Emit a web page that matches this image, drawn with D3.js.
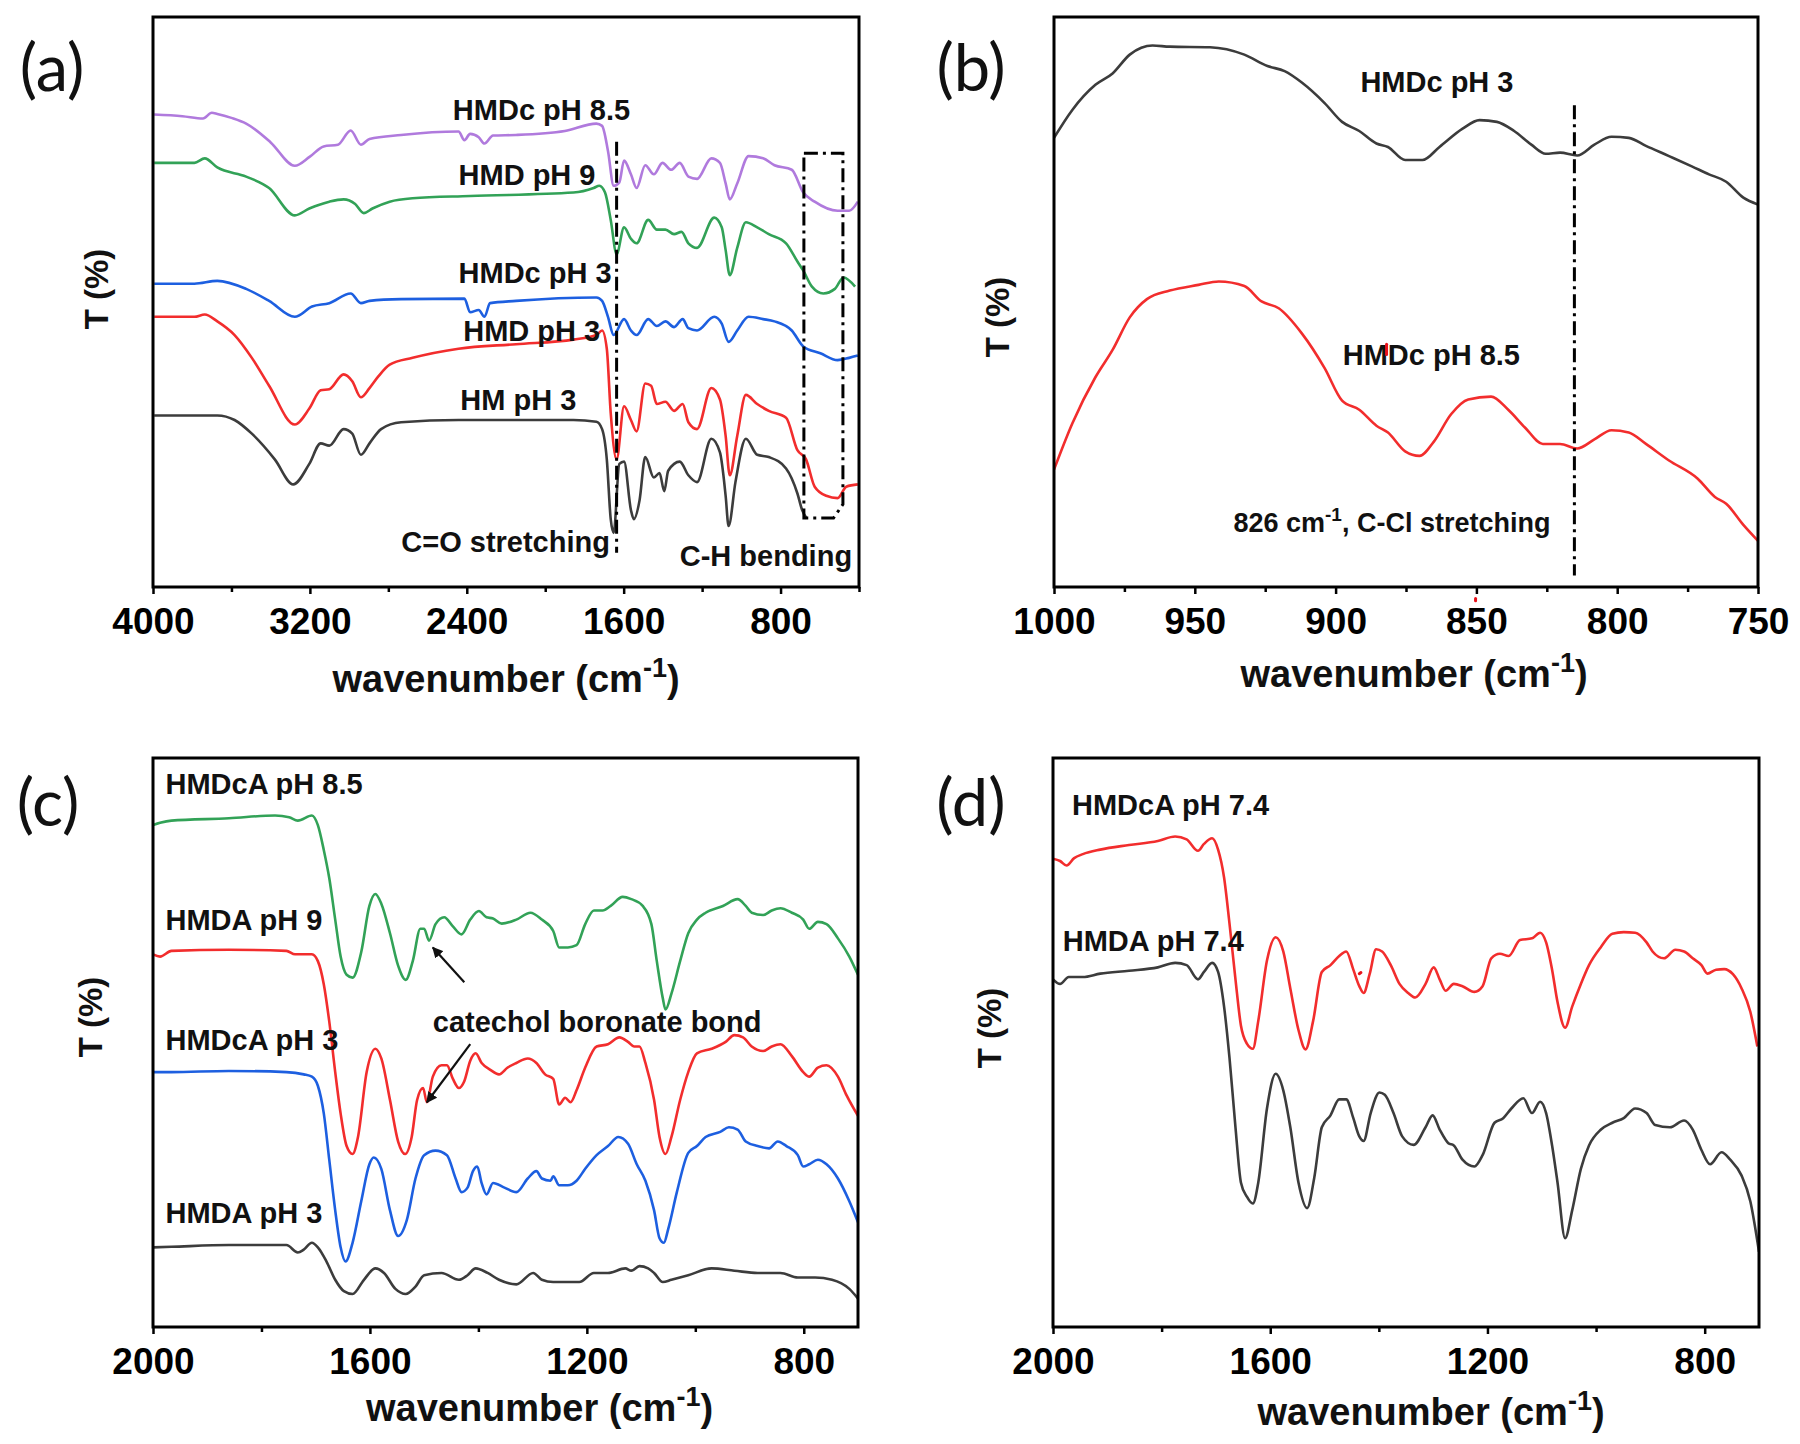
<!DOCTYPE html>
<html><head><meta charset="utf-8">
<script src="https://cdn.jsdelivr.net/npm/d3@7/dist/d3.min.js"></script>
<style>body{margin:0;background:#fff}</style>
</head><body><svg id="c" width="1800" height="1444"></svg>
<script>
// ---------------- DATA (wavenumber cm-1, transmittance in arbitrary offset units 0-100) ----------------
// Panel (a)
const aTicksMajor = [4000, 3200, 2400, 1600, 800];
const aTicksMinor = [3600, 2800, 2000, 1200, 400];
const a_HMDc_pH85 = [[3994,82.9],[3850,82.6],[3745,82.2],[3700,83.2],[3672,83.0],[3600,82.3],[3525,81.3],[3400,78.0],[3277,73.9],[3200,75.5],[3130,77.3],[3057,77.6],[2992,80.1],[2940,77.6],[2896,78.6],[2735,79.3],[2442,79.9],[2412,78.4],[2383,79.5],[2339,78.9],[2310,77.8],[2266,79.2],[2149,79.3],[1900,80.0],[1739,81.3],[1710,80.9],[1680,76.5],[1651,70.4],[1622,71.0],[1598,74.8],[1563,72.4],[1534,70.0],[1490,74.0],[1446,72.4],[1402,74.4],[1358,73.2],[1314,74.4],[1270,72.0],[1226,71.6],[1153,75.2],[1109,74.4],[1080,70.8],[1059,68.0],[1021,70.8],[963,75.6],[889,75.2],[831,74.0],[743,73.2],[684,69.2],[626,67.6],[509,66.0],[450,66.0],[406,67.6]];
const a_HMD_pH9 = [[3994,74.4],[3789,74.4],[3736,75.2],[3672,73.6],[3525,72.0],[3408,70.0],[3277,65.2],[3203,66.4],[3101,67.6],[3028,68.0],[2969,67.2],[2925,65.6],[2881,66.4],[2793,67.6],[2676,68.2],[2383,68.6],[1856,69.2],[1753,70.0],[1724,70.4],[1695,69.2],[1666,64.4],[1636,58.4],[1598,63.1],[1563,61.1],[1534,60.3],[1475,64.4],[1431,62.7],[1387,62.7],[1343,61.9],[1305,62.3],[1270,60.3],[1226,59.5],[1138,64.8],[1100,63.1],[1080,59.1],[1059,54.7],[1021,59.5],[977,64.0],[919,63.1],[860,61.9],[772,60.3],[714,57.1],[684,55.5],[640,52.7],[582,51.5],[523,52.3],[479,54.3],[420,52.7]];
const a_HMDc_pH3 = [[3994,53.2],[3789,53.2],[3672,53.7],[3525,52.3],[3408,50.2],[3277,47.4],[3189,49.2],[3101,49.8],[2992,51.5],[2940,49.8],[2896,50.2],[2735,50.5],[2412,50.6],[2383,48.2],[2339,48.6],[2310,47.4],[2281,49.8],[2149,50.2],[1739,50.8],[1710,50.2],[1680,47.4],[1651,44.2],[1598,47.0],[1563,45.0],[1534,44.2],[1475,47.0],[1431,45.8],[1387,46.6],[1343,45.6],[1299,47.0],[1270,45.4],[1226,45.0],[1138,47.4],[1100,46.2],[1065,43.0],[1021,45.0],[963,47.4],[889,47.0],[831,46.6],[743,45.0],[684,42.2],[597,41.0],[509,39.8],[450,40.2],[406,40.6]];
const a_HMD_pH3 = [[3994,47.4],[3789,47.4],[3736,47.8],[3672,46.6],[3584,44.2],[3496,40.2],[3408,35.3],[3277,28.5],[3203,31.3],[3145,34.5],[3101,34.7],[3028,37.3],[2984,36.1],[2940,33.3],[2896,34.9],[2852,36.9],[2793,39.0],[2676,40.2],[2442,41.8],[2149,42.6],[1856,43.4],[1739,44.2],[1710,45.0],[1686,41.8],[1666,30.5],[1636,22.4],[1598,31.7],[1563,29.3],[1534,27.3],[1490,35.7],[1460,35.3],[1431,32.1],[1387,32.5],[1343,30.9],[1299,32.1],[1270,28.9],[1226,27.7],[1153,34.9],[1109,32.9],[1080,26.5],[1059,19.6],[1021,26.5],[977,33.7],[919,32.1],[860,30.9],[772,29.7],[714,24.0],[670,22.4],[626,17.6],[567,16.0],[509,15.6],[465,17.6],[406,18.0]];
const a_HM_pH3 = [[3994,30.1],[3672,30.1],[3584,29.3],[3496,26.9],[3379,22.4],[3285,18.0],[3203,21.6],[3145,25.2],[3101,24.8],[3028,27.7],[2984,26.9],[2940,23.2],[2896,25.2],[2837,27.7],[2735,28.9],[2442,29.3],[1856,29.3],[1739,29.0],[1710,27.7],[1686,22.4],[1666,11.9],[1651,9.5],[1622,21.6],[1598,22.0],[1563,13.5],[1548,11.9],[1519,15.2],[1490,22.8],[1446,19.2],[1417,20.0],[1393,16.8],[1373,20.4],[1314,22.0],[1270,19.6],[1226,18.4],[1153,26.0],[1109,23.6],[1080,16.0],[1065,10.7],[1030,18.4],[977,26.0],[919,23.2],[860,22.8],[772,20.8],[714,16.4],[690,13.5],[666,12.0]];
const aLabels = [["HMDc pH 8.5",2471,83.7],["HMD pH 9",2442,72.4],["HMDc pH 3",2442,55.1],["HMD pH 3",2418,45.0],["HM pH 3",2433,32.9],["C=O stretching",2734,8.0],["C-H bending",1314,5.6]];
const aCOLine = [[1636,78.1],[1636,6.0]];
const aBox = [[681,76.1],[482,76.1],[482,14.5],[530,12.1],[681,12.1],[681,76.1]];

// Panel (b)
const bTicksMajor = [1000, 950, 900, 850, 800, 750];
const bTicksMinor = [975, 925, 875, 825, 775];
const b_HMDc_pH3 = [[1000,78.8],[993.5,83.7],[985.3,88.1],[979.2,90.1],[973.1,93.4],[969.0,94.6],[965.0,95.0],[958.9,94.8],[944.6,94.7],[932.4,93.4],[924.2,91.4],[918.1,90.5],[912.0,88.5],[903.9,84.9],[897.7,81.6],[891.6,80.0],[885.5,77.8],[881.4,77.2],[875.3,74.9],[869.2,74.9],[863.1,77.2],[854.9,80.4],[848.9,81.9],[842.7,81.6],[836.6,80.0],[830.5,77.6],[825.4,76.0],[820.3,76.2],[814.2,75.7],[808.1,77.6],[802.0,79.0],[795.9,78.8],[789.8,77.4],[781.6,75.6],[773.5,73.8],[767.4,72.4],[761.3,71.1],[755.2,68.3],[750,67.1]];
const b_HMDc_pH85 = [[1000,20.6],[993.5,28.7],[985.3,36.8],[979.2,41.6],[973.1,47.3],[967.0,50.5],[958.9,52.0],[948.7,53.0],[941.5,53.6],[932.4,52.8],[926.3,50.1],[920.2,48.9],[912.0,44.5],[903.9,38.4],[897.7,32.7],[891.6,31.1],[885.5,28.3],[881.4,27.1],[875.3,23.8],[870.2,23.0],[865.1,25.5],[859.0,30.3],[852.9,32.9],[844.8,33.4],[838.7,31.1],[832.6,27.9],[826.4,25.1],[820.3,25.1],[814.2,24.3],[808.1,25.9],[802.0,27.5],[795.9,27.1],[789.8,25.1],[781.6,22.2],[771.4,19.0],[765.3,15.8],[761.3,14.6],[755.2,10.9],[750,8.1]];
const bLabels = [["HMDc pH 3",864,88.7],["HMDc pH 8.5",866,40.8]];
const bCClLine = [[815.2,84.5],[815.2,2.0]];
const bNote = [880, 11.3];
const bRedSpecks = [[[881.9,40.8],[881.9,42.6]],[[850.3,-2.4],[850.3,-2.0]]];

// Panel (c)
const cdTicksMajor = [2000, 1600, 1200, 800];
const cdTicksMinor = [1800, 1400, 1000];
const c_HMDcA_pH85 = [[2000,88.2],[1987,88.6],[1966,89.0],[1860,89.4],[1775,89.9],[1749,89.6],[1733,89.0],[1707,89.9],[1696,88.2],[1685,83.8],[1675,78.9],[1664,71.6],[1654,65.1],[1643,61.9],[1632,61.4],[1616,65.9],[1601,74.0],[1590,76.1],[1579,74.4],[1563,69.2],[1548,63.5],[1534,61.0],[1521,64.3],[1507,70.0],[1500,70.0],[1491,67.9],[1479,70.8],[1463,72.0],[1447,70.4],[1431,69.0],[1415,71.6],[1399,73.1],[1385,72.0],[1373,71.8],[1357,70.9],[1330,71.6],[1304,72.8],[1283,71.6],[1262,69.6],[1251,66.7],[1235,66.7],[1219,67.1],[1203,70.8],[1187,73.2],[1171,73.2],[1156,74.0],[1134,75.6],[1118,75.2],[1097,74.0],[1081,70.8],[1071,64.3],[1060,57.8],[1055,55.8],[1044,58.6],[1028,64.3],[1013,69.2],[997,71.6],[981,72.8],[949,74.0],[922,75.2],[907,74.0],[896,72.8],[875,72.4],[859,73.2],[843,73.6],[822,72.8],[801,71.6],[790,70.0],[774,71.2],[758,70.8],[737,68.3],[716,65.1],[700,61.9]];
const c_HMDA_pH9 = [[2000,65.5],[1987,65.1],[1966,66.1],[1860,66.3],[1754,66.1],[1738,65.5],[1707,65.5],[1696,64.3],[1685,60.2],[1675,53.7],[1664,44.8],[1654,37.5],[1643,31.8],[1632,30.4],[1622,33.4],[1606,44.8],[1590,48.9],[1579,47.2],[1563,39.9],[1548,32.6],[1535,30.4],[1523,33.4],[1513,39.9],[1502,42.0],[1495,39.5],[1484,44.0],[1468,46.0],[1458,46.0],[1447,43.6],[1436,42.0],[1426,43.2],[1415,46.8],[1405,48.1],[1394,46.4],[1378,45.2],[1362,44.4],[1346,45.6],[1330,46.4],[1309,47.2],[1293,46.4],[1277,44.4],[1262,43.6],[1251,39.1],[1240,40.3],[1230,39.5],[1219,41.6],[1203,45.6],[1182,49.3],[1161,49.7],[1140,50.9],[1124,50.1],[1113,49.3],[1103,49.3],[1092,46.4],[1076,39.9],[1066,33.4],[1055,30.4],[1044,33.4],[1028,39.9],[1013,44.8],[997,48.1],[970,48.9],[944,50.1],[928,51.3],[912,50.9],[896,49.3],[875,48.5],[859,49.3],[843,49.7],[822,47.6],[801,44.8],[790,44.0],[774,45.6],[758,46.0],[737,44.0],[721,40.7],[700,37.1]];
const c_HMDcA_pH3 = [[2000,44.8],[1966,44.8],[1860,45.0],[1754,44.8],[1722,44.4],[1707,44.0],[1696,42.4],[1685,37.5],[1675,29.4],[1664,20.5],[1654,14.0],[1645,11.5],[1632,14.8],[1616,22.1],[1601,28.6],[1593,29.8],[1579,27.8],[1563,20.5],[1548,16.0],[1532,18.8],[1516,26.1],[1500,30.2],[1479,31.0],[1458,30.2],[1442,26.1],[1431,23.7],[1420,24.5],[1410,27.4],[1402,28.2],[1394,25.3],[1385,23.3],[1373,25.3],[1352,24.5],[1330,23.7],[1309,26.1],[1293,27.4],[1283,26.1],[1267,25.7],[1262,26.5],[1251,24.9],[1235,24.9],[1219,25.7],[1203,27.8],[1182,30.2],[1161,31.8],[1142,33.4],[1124,32.2],[1108,28.6],[1092,25.7],[1076,20.5],[1066,15.6],[1058,14.8],[1050,17.2],[1034,23.7],[1013,30.6],[997,31.8],[981,33.4],[954,34.3],[938,35.1],[922,34.7],[907,32.6],[885,31.8],[864,31.4],[848,32.6],[832,31.8],[811,30.2],[801,28.2],[790,28.6],[774,29.4],[758,28.6],[737,26.1],[716,22.1],[700,18.4]];
const c_HMDA_pH3 = [[2000,14.0],[1966,14.1],[1860,14.4],[1754,14.4],[1733,13.1],[1722,13.6],[1707,14.8],[1696,14.0],[1680,11.5],[1664,8.3],[1648,6.3],[1632,5.8],[1611,8.3],[1590,10.3],[1574,9.5],[1553,6.7],[1534,5.8],[1516,7.1],[1500,9.1],[1468,9.5],[1436,8.3],[1420,9.1],[1405,10.3],[1383,9.5],[1362,8.3],[1330,7.5],[1299,9.5],[1283,8.3],[1262,7.9],[1235,7.9],[1214,7.9],[1187,9.5],[1161,9.5],[1129,10.3],[1118,9.9],[1103,10.7],[1087,10.3],[1076,9.5],[1060,7.9],[1044,8.3],[1013,9.1],[970,10.3],[928,9.9],[885,9.5],[843,9.5],[811,8.7],[779,8.7],[748,8.3],[716,6.7],[700,5.0]];
const cLabels = [["HMDcA pH 8.5",1977,95.5],["HMDA pH 9",1977,71.6],["HMDcA pH 3",1977,50.6],["HMDA pH 3",1977,20.2],["catechol boronate bond",1484,53.7]];
const cArrows = [[[1426,60.6],[1484,66.7]],[[1415,49.7],[1495,39.5]]];

// Panel (d)
const d_HMDcA_pH74 = [[2000,82.3],[1987,81.9],[1975,81.1],[1961,82.4],[1945,83.1],[1913,83.9],[1860,84.7],[1807,85.4],[1775,86.2],[1754,85.7],[1733,83.7],[1722,84.9],[1707,85.9],[1696,83.9],[1685,79.0],[1675,70.9],[1664,61.1],[1654,53.0],[1643,49.8],[1632,48.9],[1622,53.8],[1606,64.4],[1590,68.5],[1576,66.0],[1563,59.5],[1548,52.2],[1535,48.8],[1521,53.8],[1505,62.4],[1489,63.6],[1473,65.2],[1460,66.0],[1447,62.8],[1436,59.9],[1428,58.7],[1417,62.0],[1405,66.4],[1394,66.0],[1378,63.6],[1362,60.3],[1346,58.7],[1333,57.9],[1314,60.3],[1299,63.2],[1288,61.1],[1277,59.1],[1262,60.3],[1246,59.9],[1224,58.9],[1209,59.9],[1193,64.8],[1177,65.6],[1161,65.2],[1140,68.0],[1118,68.3],[1103,69.3],[1092,67.6],[1081,62.8],[1071,57.1],[1057,52.6],[1044,56.3],[1028,60.3],[1013,63.6],[991,66.8],[970,69.1],[949,69.4],[928,69.3],[907,67.6],[896,66.0],[875,64.8],[854,66.3],[838,66.0],[822,64.8],[806,63.6],[795,62.1],[779,62.8],[764,62.9],[748,62.0],[732,59.5],[716,55.4],[703,49.3]];
const d_HMDA_pH74 = [[2000,61.1],[1987,60.3],[1971,61.5],[1945,61.5],[1913,62.1],[1860,62.6],[1807,63.2],[1775,64.0],[1754,63.6],[1733,61.1],[1722,62.4],[1707,64.0],[1696,62.4],[1685,56.3],[1675,47.3],[1664,35.1],[1654,25.4],[1643,22.9],[1632,21.7],[1622,25.4],[1606,38.4],[1590,44.5],[1576,41.6],[1563,35.1],[1548,25.4],[1532,20.9],[1519,26.2],[1505,35.1],[1489,37.2],[1473,40.0],[1460,40.0],[1447,36.7],[1436,33.5],[1428,32.7],[1415,37.6],[1399,41.2],[1389,40.8],[1373,37.6],[1357,33.5],[1336,32.0],[1314,35.1],[1301,37.2],[1288,34.7],[1272,32.3],[1262,31.9],[1246,29.4],[1224,28.2],[1209,30.2],[1187,35.9],[1171,36.7],[1156,38.4],[1134,40.2],[1118,37.6],[1103,39.6],[1092,37.6],[1081,31.9],[1071,25.4],[1057,15.6],[1044,20.5],[1028,27.8],[1013,31.9],[991,34.7],[970,35.9],[949,36.7],[928,38.4],[907,37.6],[891,35.5],[864,35.1],[838,36.3],[822,34.7],[806,31.1],[790,28.6],[769,30.7],[753,29.4],[732,26.6],[716,22.1],[700,13.2]];
const dLabels = [["HMDcA pH 7.4",1965,91.8],["HMDA pH 7.4",1982,68.0]];
const dRedSpecks = [[[1436,62.1],[1433,62.3]]];

// ---------------- DRAWING ----------------
const FONT = "'Liberation Sans', Arial, Helvetica, sans-serif";
const COL = {black:"#3c3c3c", red:"#f22d2d", blue:"#1d5fe0", green:"#32a257", purple:"#b07add"};
const svg = d3.select("#c");
svg.append("rect").attr("width",1800).attr("height",1444).attr("fill","#fff");
const defs = svg.append("defs");
defs.append("marker").attr("id","arrowhead").attr("viewBox","0 0 10 10").attr("refX",9).attr("refY",5)
  .attr("markerWidth",5).attr("markerHeight",5).attr("orient","auto")
  .append("path").attr("d","M0,0 L10,5 L0,10 z").attr("fill","#111");

function makePanel(cfg){
  const {L,R,T,B} = cfg.box;
  const x = d3.scaleLinear().domain(cfg.xDomain).range([L,R]);
  const y = d3.scaleLinear().domain([0,100]).range([B,T]);
  const g = svg.append("g");
  const clipId = "clip_"+cfg.id;
  defs.append("clipPath").attr("id",clipId).append("rect").attr("x",L).attr("y",T).attr("width",R-L).attr("height",B-T);

  // minor ticks
  g.append("g").attr("transform",`translate(0,${B})`)
    .call(d3.axisBottom(x).tickValues(cfg.minor).tickSize(5).tickFormat(""))
    .call(s=>s.select(".domain").remove())
    .selectAll("line").attr("stroke","#000").attr("stroke-width",2.5);
  // major ticks + labels
  const ax = g.append("g").attr("transform",`translate(0,${B})`)
    .call(d3.axisBottom(x).tickValues(cfg.major).tickSize(7).tickPadding(14).tickFormat(d3.format("d")))
    .call(s=>s.select(".domain").remove());
  ax.selectAll("line").attr("stroke","#000").attr("stroke-width",2.5);
  ax.selectAll("text").attr("font-family",FONT).attr("font-weight","bold").attr("font-size",37).attr("fill","#000");

  // curves
  const line = d3.line().x(d=>x(d[0])).y(d=>y(d[1])).curve(d3.curveMonotoneX);
  const cg = g.append("g").attr("clip-path",`url(#${clipId})`);
  cfg.series.forEach(s=>{
    cg.append("path").datum(s.data).attr("d",line).attr("fill","none")
      .attr("stroke",s.color).attr("stroke-width",2.6).attr("stroke-linejoin","round");
  });

  // frame
  g.append("rect").attr("x",L).attr("y",T).attr("width",R-L).attr("height",B-T)
    .attr("fill","none").attr("stroke","#000").attr("stroke-width",3);

  // labels
  (cfg.labels||[]).forEach(l=>{
    g.append("text").attr("x",x(l[1])).attr("y",y(l[2])).attr("dy","0.36em")
      .attr("text-anchor",cfg.labelAnchor||"start")
      .attr("font-family",FONT).attr("font-weight","bold").attr("font-size",29).attr("fill","#111").text(l[0]);
  });

  // axis title
  const t = g.append("text").attr("x",(L+R)/2 + (cfg.titleDx||0)).attr("y",B+cfg.titleDy)
    .attr("text-anchor","middle").attr("font-family",FONT).attr("font-weight","bold").attr("font-size",38).attr("fill","#111");
  t.append("tspan").text("wavenumber (cm");
  t.append("tspan").attr("dy",-15).attr("font-size",27).text("-1");
  t.append("tspan").attr("dy",15).text(")");

  // y title
  g.append("text").attr("transform",`translate(${cfg.yTitle[0]},${cfg.yTitle[1]}) rotate(-90)`)
    .attr("text-anchor","middle").attr("dy","0.36em").attr("font-family",FONT).attr("font-weight","bold")
    .attr("font-size",33).attr("fill","#111").text("T (%)");

  // panel letter
  g.append("text").attr("x",cfg.letterPos[0]).attr("y",cfg.letterPos[1]).attr("text-anchor","middle")
    .attr("font-family","Lato, 'Open Sans', sans-serif").attr("font-size",65).attr("fill","#111").text(cfg.letter);

  // red specks (scan artefacts in the original)
  (cfg.specks||[]).forEach(s=>{
    g.append("line").attr("x1",x(s[0][0])).attr("y1",y(s[0][1])).attr("x2",x(s[1][0])).attr("y2",y(s[1][1]))
      .attr("stroke","#e8121b").attr("stroke-width",3).attr("stroke-linecap","round");
  });

  if (cfg.extra) cfg.extra(g,x,y);
}

const dashDot = "14,5,3,5";

makePanel({
  id:"a", box:{L:153,R:859,T:17,B:587}, xDomain:[4000,400], major:aTicksMajor, minor:aTicksMinor,
  series:[{data:a_HM_pH3,color:COL.black},{data:a_HMD_pH3,color:COL.red},{data:a_HMDc_pH3,color:COL.blue},{data:a_HMD_pH9,color:COL.green},{data:a_HMDc_pH85,color:COL.purple}],
  labels:aLabels, titleDy:105, yTitle:[96,289], letterPos:[52,91], letter:"(a)",
  extra:(g,x,y)=>{
    const ln = d3.line().x(d=>x(d[0])).y(d=>y(d[1]));
    g.append("path").attr("d",ln(aCOLine)).attr("fill","none").attr("stroke","#000").attr("stroke-width",3).attr("stroke-dasharray",dashDot);
    g.append("path").attr("d",ln(aBox)).attr("fill","none").attr("stroke","#000").attr("stroke-width",3).attr("stroke-dasharray",dashDot);
  }
});

makePanel({
  id:"b", box:{L:1054,R:1758,T:17,B:587}, xDomain:[1000,750], major:bTicksMajor, minor:bTicksMinor,
  series:[{data:b_HMDc_pH3,color:COL.black},{data:b_HMDc_pH85,color:COL.red}],
  labels:bLabels, labelAnchor:"middle", titleDy:100, titleDx:8, yTitle:[997,317], letterPos:[971,91], letter:"(b)",
  specks:bRedSpecks,
  extra:(g,x,y)=>{
    const ln = d3.line().x(d=>x(d[0])).y(d=>y(d[1]));
    g.append("path").attr("d",ln(bCClLine)).attr("fill","none").attr("stroke","#000").attr("stroke-width",3).attr("stroke-dasharray",dashDot);
    const t = g.append("text").attr("x",x(bNote[0])).attr("y",y(bNote[1])).attr("dy","0.36em").attr("text-anchor","middle")
      .attr("font-family",FONT).attr("font-weight","bold").attr("font-size",27).attr("fill","#111");
    t.append("tspan").text("826 cm");
    t.append("tspan").attr("dy",-11).attr("font-size",19).text("-1");
    t.append("tspan").attr("dy",11).text(", C-Cl stretching");
  }
});

makePanel({
  id:"c", box:{L:153,R:858,T:758,B:1327}, xDomain:[2000,700], major:cdTicksMajor, minor:cdTicksMinor,
  series:[{data:c_HMDA_pH3,color:COL.black},{data:c_HMDcA_pH3,color:COL.blue},{data:c_HMDA_pH9,color:COL.red},{data:c_HMDcA_pH85,color:COL.green}],
  labels:cLabels, titleDy:94, titleDx:34, yTitle:[90,1017], letterPos:[48,826], letter:"(c)",
  extra:(g,x,y)=>{
    cArrows.forEach(a=>{
      g.append("line").attr("x1",x(a[0][0])).attr("y1",y(a[0][1])).attr("x2",x(a[1][0])).attr("y2",y(a[1][1]))
        .attr("stroke","#111").attr("stroke-width",2.2).attr("marker-end","url(#arrowhead)");
    });
  }
});

makePanel({
  id:"d", box:{L:1053,R:1759,T:758,B:1327}, xDomain:[2000,700], major:cdTicksMajor, minor:cdTicksMinor,
  series:[{data:d_HMDA_pH74,color:COL.black},{data:d_HMDcA_pH74,color:COL.red}],
  labels:dLabels, titleDy:98, titleDx:25, yTitle:[989,1028], letterPos:[971,826], letter:"(d)",
  specks:dRedSpecks
});
</script>
</body></html>
